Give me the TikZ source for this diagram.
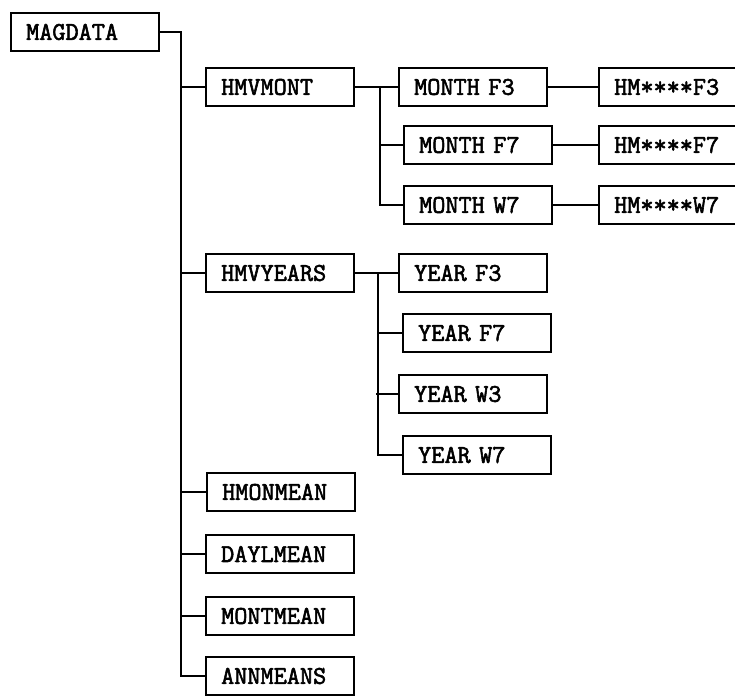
\documentclass[tikz,border=0pt]{standalone}
\usepackage{fontspec}
\newfontfamily\boxfont{Latin Modern Mono}[AutoFakeBold=2.2]
\begin{document}
\begin{tikzpicture}[x=1pt,y=-1pt,
  box/.style={draw, line width=2.3pt, minimum height=38pt, inner xsep=15pt, inner ysep=0pt,
    text width=118pt, align=left, anchor=west,
    font=\boxfont\bfseries\fontsize{25.5}{25.5}\selectfont},
  wire/.style={line width=2.3pt}]
\useasboundingbox (0,0) rectangle (735,695);
\clip (0,0) rectangle (735,695);
\node[box] (mag) at (10,32) {MAGDATA};
\node[box] (hmv) at (205,87) {HMVMONT};
\node[box] (mf3) at (398,87) {MONTH F3};
\node[box] (hf3) at (598,87) {HM****F3};
\node[box] (mf7) at (403,145) {MONTH F7};
\node[box] (hf7) at (598,145) {HM****F7};
\node[box] (mw7) at (403,205) {MONTH W7};
\node[box] (hw7) at (598,205) {HM****W7};
\node[box] (hvy) at (205,273) {HMVYEARS};
\node[box] (yf3) at (398,273) {YEAR F3};
\node[box] (yf7) at (402,333) {YEAR F7};
\node[box] (yw3) at (398,394) {YEAR W3};
\node[box] (yw7) at (402,455) {YEAR W7};
\node[box] (hmo) at (206,492) {HMONMEAN};
\node[box] (day) at (205,554) {DAYLMEAN};
\node[box] (mon) at (205,616) {MONTMEAN};
\node[box] (ann) at (205,676) {ANNMEANS};
% main trunk
\coordinate (tt) at (181,32);
\coordinate (tb) at (181,676);
\draw[wire] (mag.east) -- (tt) -- (tb) -- (ann.west);
\foreach \n in {hmv,hvy,hmo,day,mon}
  \draw[wire] (tt |- \n.west) -- (\n.west);
% HMVMONT subtree
\coordinate (s1) at (380,87);
\draw[wire] (hmv.east) -- (mf3.west);
\draw[wire] (s1) |- (mw7.west);
\draw[wire] (s1 |- mf7.west) -- (mf7.west);
\draw[wire] (mf3.east) -- (hf3.west);
\draw[wire] (mf7.east) -- (hf7.west);
\draw[wire] (mw7.east) -- (hw7.west);
% HMVYEARS subtree
\coordinate (s2) at (378,273);
\draw[wire] (hvy.east) -- (yf3.west);
\draw[wire] (s2) |- (yw7.west);
\draw[wire] (s2 |- yf7.west) -- (yf7.west);
\draw[wire] ([xshift=-2pt]s2 |- yw3.west) -- (yw3.west);
\end{tikzpicture}
\end{document}
